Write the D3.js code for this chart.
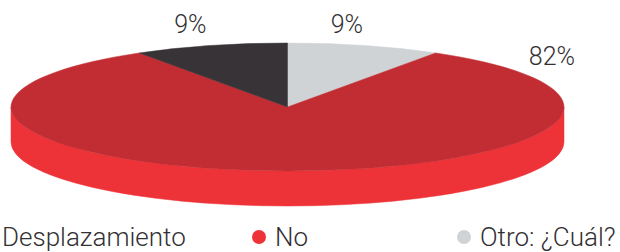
<!DOCTYPE html>
<html>
<head>
<meta charset="utf-8">
<script src="https://cdn.jsdelivr.net/npm/d3@7"></script>
<style>
  html, body { margin: 0; padding: 0; background: #fff; overflow: hidden; }
  svg { display: block; }
  text { font-family: Roboto, "Open Sans", sans-serif; font-weight: 300; fill: #333033; }
</style>
</head>
<body>
<svg width="620" height="252"></svg>
<script>
// Data for the chart
const categories = ["Desplazamiento", "No", "Otro: ¿Cuál?"];
const values = [9, 82, 9];
const labels = ["9%", "82%", "9%"];
// slice order going clockwise from 12 o'clock
const pieOrder = [2, 1, 0];

const topColors  = ["#383336", "#c22d33", "#d0d3d6"];
const sideColors = ["#2a2628", "#ee3338", "#b9bcbf"];
const dotColors  = ["#383336", "#ee3338", "#d0d3d6"];

// Pie geometry (ellipse seen in perspective)
const cx = 287.5, cy = 107, rx = 276.5, ry = 64, depth = 35;

const svg = d3.select("svg");

const pie = d3.pie()
    .sort(null)
    .value(i => values[i]);

const slices = pie(pieOrder);

// angle measured clockwise from top
function pt(a, y0 = 0, k = 1) {
    return [cx + rx * k * Math.sin(a), cy + y0 - ry * k * Math.cos(a)];
}

function topPath(d) {
    const p0 = pt(d.startAngle), p1 = pt(d.endAngle);
    const large = d.endAngle - d.startAngle > Math.PI ? 1 : 0;
    return `M${cx},${cy}L${p0}A${rx},${ry} 0 ${large} 1 ${p1}Z`;
}

function sidePath(a0, a1) {
    const t0 = pt(a0), t1 = pt(a1), b0 = pt(a0, depth), b1 = pt(a1, depth);
    return `M${t0}A${rx},${ry} 0 0 1 ${t1}L${b1}A${rx},${ry} 0 0 0 ${b0}Z`;
}

// Side walls, only the front half (between 90 and 270 degrees) shows
slices.forEach(d => {
    const a0 = Math.max(d.startAngle, Math.PI / 2);
    const a1 = Math.min(d.endAngle, 3 * Math.PI / 2);
    if (a1 <= a0) return;
    svg.append("path")
        .attr("d", sidePath(a0, a1))
        .attr("fill", sideColors[d.data])
        .attr("stroke", sideColors[d.data])
        .attr("stroke-width", 0.5);
});

// Top faces
svg.selectAll("path.top")
    .data(slices)
    .join("path")
    .attr("class", "top")
    .attr("d", topPath)
    .attr("fill", d => topColors[d.data])
    .attr("stroke", d => topColors[d.data])
    .attr("stroke-width", 0.5);

// Percent labels, placed by hand like the original (angle in degrees, radius factor)
const labelSpots = [
    {angle: -15.2, k: 1.34},
    {angle: 50.2, k: 1.245},
    {angle: 9.4, k: 1.315}
];

categories.forEach((c, i) => {
    const s = labelSpots[i];
    const p = pt(s.angle * Math.PI / 180, 0, s.k);
    svg.append("text")
        .attr("x", p[0])
        .attr("y", p[1])
        .attr("dy", "0.36em")
        .attr("text-anchor", "middle")
        .style("font-size", "25px")
        .text(labels[i]);
});

// Legend
const legendDotX = [-14, 259, 464];
const legendY = 237;

categories.forEach((c, i) => {
    svg.append("circle")
        .attr("cx", legendDotX[i])
        .attr("cy", legendY)
        .attr("r", 7)
        .attr("fill", dotColors[i]);

    svg.append("text")
        .attr("x", legendDotX[i] + 16)
        .attr("y", legendY)
        .attr("dy", "0.36em")
        .style("font-size", "26px")
        .text(c);
});
</script>
</body>
</html>
